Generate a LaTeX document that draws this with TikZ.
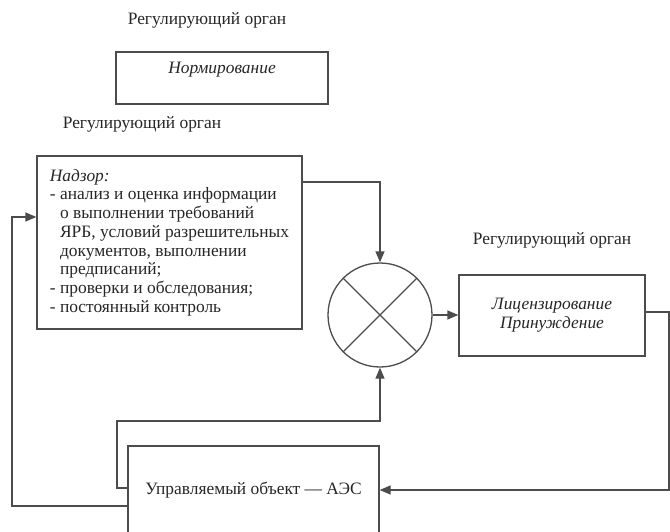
\documentclass[tikz,border=0pt]{standalone}
\usepackage{fontspec}
\setmainfont{Liberation Serif}
\usetikzlibrary{arrows.meta,calc}
\newcommand\dgfs{\fontsize{17.4}{18.7}\selectfont}
\begin{document}
\begin{tikzpicture}[x=1pt,y=-1pt,
  line/.style={draw=black!70, line width=1.3pt},
  arr/.style={line, -{Triangle[length=11pt,width=9pt]}},
  box/.style={line, rectangle, inner sep=0pt},
  lbl/.style={font=\dgfs, text=black!85}]
\useasboundingbox (0,0) rectangle (670,531);

% labels
\node[lbl] (l1) at (207,20) {Регулирующий орган};
\node[lbl] (l2) at (142,124) {Регулирующий орган};
\node[lbl] (l3) at (552,240) {Регулирующий орган};

% boxes
\node[box, minimum width=212pt, minimum height=52pt] (norm) at (222,78) {};
\node[lbl, font=\dgfs\itshape] (normt) at (222,70) {Нормирование};

\node[box, lbl, minimum width=265pt, minimum height=173pt, align=left] (nadzor) at (169.5,242.5)
 {\textit{Надзор:}\\
  - анализ и оценка информации\\
  \hphantom{-\ }о выполнении требований\\
  \hphantom{-\ }ЯРБ, условий разрешительных\\
  \hphantom{-\ }документов, выполнении\\
  \hphantom{-\ }предписаний;\\
  - проверки и обследования;\\
  - постоянный контроль};

\node[box, circle, minimum size=104pt] (sum) at (380,315) {};
\draw[line] (sum.45) -- (sum.225) (sum.135) -- (sum.315);

\node[box, lbl, font=\dgfs\itshape, align=center, minimum width=186pt, minimum height=81pt] (lic) at (552,315.5)
 {Лицензирование\\Принуждение};

\node[box, lbl, minimum width=251pt, minimum height=89pt] (aes) at (253.5,490.5)
 {Управляемый объект — АЭС};

% connectors
\coordinate (a1) at (380,182);
\draw[arr] (nadzor.east |- a1) -- (a1) -- (sum.north);
\draw[arr] (sum.east) -- (lic.west |- sum.east);
\coordinate (r1) at (669,312);
\coordinate (r2) at (669,490);
\draw[arr] (lic.east |- r1) -- (r1) -- (r2) -- (aes.east |- r2);
\coordinate (i1) at (117,488);
\coordinate (i2) at (117,421);
\coordinate (i3) at (380,421);
\draw[arr] (aes.west |- i1) -- (i1) -- (i2) -- (i3) -- (sum.south);
\coordinate (o1) at (12,506);
\coordinate (o2) at (12,217);
\draw[arr] (aes.west |- o1) -- (o1) -- (o2) -- (nadzor.west |- o2);
\end{tikzpicture}
\end{document}
